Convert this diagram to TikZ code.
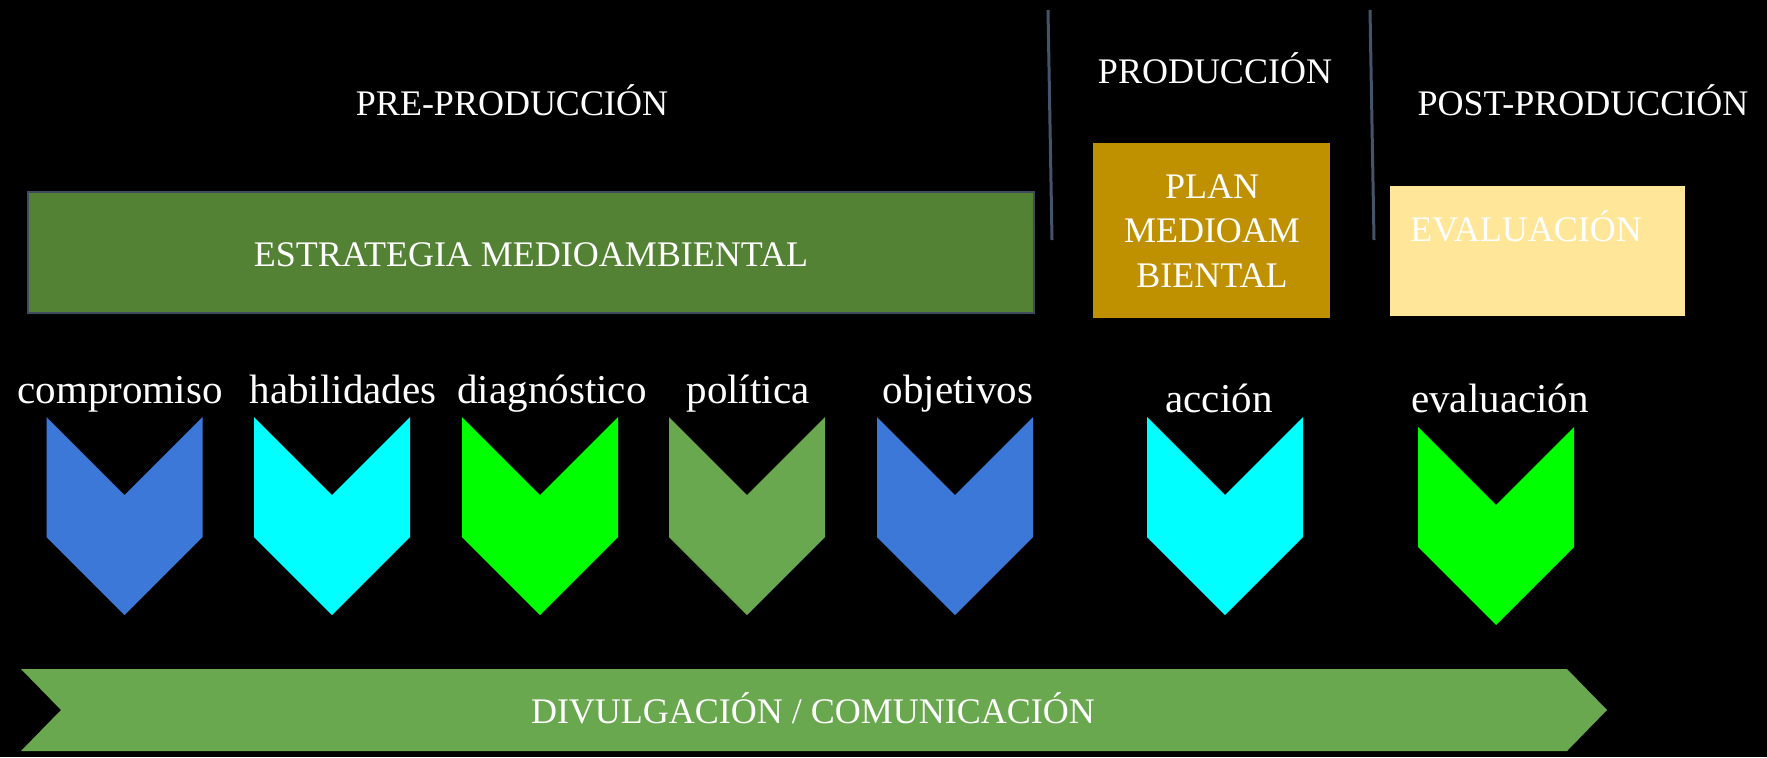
\documentclass[tikz,border=0pt]{standalone}
\usepackage{fontspec}
\setmainfont{Liberation Serif}
\definecolor{stratgreen}{HTML}{548235}
\definecolor{boxedge}{HTML}{3E4C60}
\definecolor{sepline}{HTML}{44546A}
\definecolor{gold}{HTML}{BF9000}
\definecolor{paleyellow}{HTML}{FFE699}
\definecolor{chevblue}{HTML}{3C78D8}
\definecolor{chevcyan}{HTML}{00FFFF}
\definecolor{chevgreen}{HTML}{00FF00}
\definecolor{chevolive}{HTML}{6AA84F}
\definecolor{arrowgreen}{HTML}{6AA84F}
\tikzset{
  phase/.style={text=white, inner sep=0pt, anchor=base, font=\fontsize{18}{22}\selectfont},
  steplabel/.style={text=white, inner sep=0pt, anchor=base, font=\fontsize{20.5}{24}\selectfont},
  sepstroke/.style={draw=sepline, line width=1.5pt},
  chev/.pic={\fill[pic actions] (-78,0) -- (0,78) -- (78,0) -- (78,120) -- (0,198) -- (-78,120) -- cycle;}
}
\begin{document}
\begin{tikzpicture}[x=0.5pt,y=-0.5pt]
\fill[black] (0,0) rectangle (1767,757);
\useasboundingbox (0,0) rectangle (1767,757);
% separators
\coordinate (s1a) at (1048,10); \coordinate (s1b) at (1052,240);
\coordinate (s2a) at (1370,10); \coordinate (s2b) at (1374,240);
\draw[sepstroke] (s1a) -- (s1b);
\draw[sepstroke] (s2a) -- (s2b);
% phase titles
\node[phase] (pre) at (512,115) {PRE-PRODUCCIÓN};
\node[phase] (prod) at (1215,83) {PRODUCCIÓN};
\node[phase] (post) at (1583,115) {POST-PRODUCCIÓN};
% boxes
\fill[stratgreen, draw=boxedge, line width=1pt] (28,192) rectangle (1034,313);
\node[phase] (estr) at (531,266) {ESTRATEGIA MEDIOAMBIENTAL};
\fill[gold] (1093,143) rectangle (1330,318);
\node[phase] (plan1) at (1212,198) {PLAN};
\node[phase] (plan2) at (1212,242) {MEDIOAM};
\node[phase] (plan3) at (1212,287) {BIENTAL};
\fill[paleyellow] (1390,186) rectangle (1685,316);
\node[phase, anchor=base west] (evalbox) at (1410,241) {EVALUACIÓN};
% step labels
\node[steplabel] (l1) at (120,403) {compromiso};
\node[steplabel] (l2) at (343,403) {habilidades};
\node[steplabel] (l3) at (552,403) {diagnóstico};
\node[steplabel] (l4) at (748,403) {política};
\node[steplabel] (l5) at (958,403) {objetivos};
\node[steplabel] (l6) at (1219,412) {acción};
\node[steplabel] (l7) at (1500,412) {evaluación};
% chevrons
\pic[fill=chevblue] at (124.5,417) {chev};
\pic[fill=chevcyan] at (332,417) {chev};
\pic[fill=chevgreen] at (540,417) {chev};
\pic[fill=chevolive] at (747,417) {chev};
\pic[fill=chevblue] at (955,417) {chev};
\pic[fill=chevcyan] at (1225,417) {chev};
\pic[fill=chevgreen] at (1496,427) {chev};
% bottom arrow
\fill[arrowgreen] (21,669) -- (1567,669) -- (1607,710) -- (1567,751) -- (21,751) -- (61,710) -- cycle;
\node[phase] (divul) at (813,723) {DIVULGACIÓN / COMUNICACIÓN};
\end{tikzpicture}
\end{document}
